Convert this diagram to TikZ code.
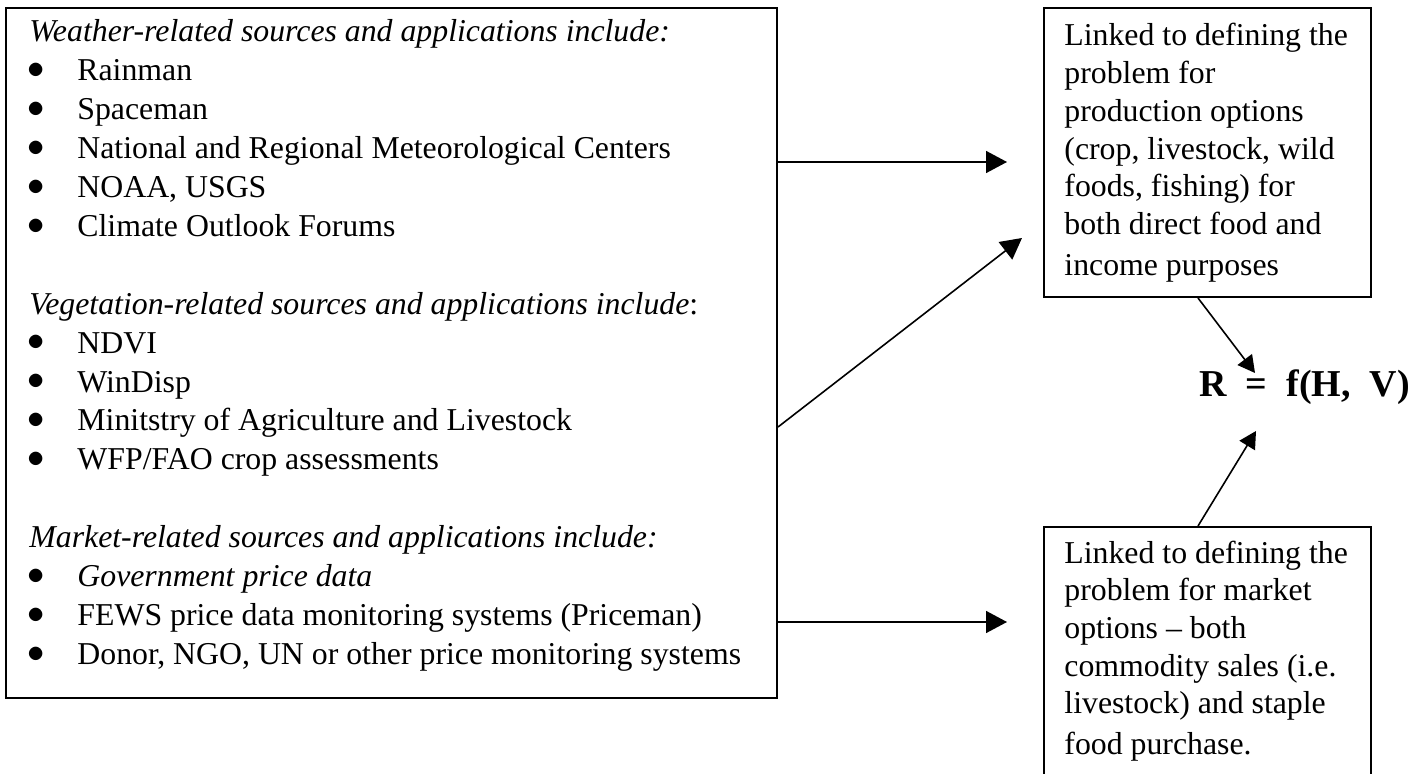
\documentclass[tikz,border=0pt]{standalone}
\usepackage{fontspec}
\setmainfont{Liberation Serif}
\usetikzlibrary{arrows.meta,calc,positioning}
\tikzset{
	>={Triangle[length=10.5pt,width=11pt]},
	box/.style={draw, line width=1pt, anchor=north west, inner sep=0pt},
	link/.style={->, line width=0.8pt},
	shortlink/.style={-{Triangle[length=8.5pt,width=9pt]}, line width=0.8pt},
	boxtext/.style={anchor=base west, inner sep=0pt, font=\fontsize{15.9}{18.85}\selectfont},
	listtext/.style={anchor=base west, inner sep=0pt, font=\fontsize{15.9}{19.45}\selectfont},
}
\newcommand{\hd}[1]{\multicolumn{2}{@{}l@{}}{#1}}
\newcommand{\bl}{\hspace{-1pt}\raisebox{1.1pt}{$\bullet$}}

\begin{document}
\begin{tikzpicture}[x=0.5pt, y=-0.5pt]
	\useasboundingbox (0,0) rectangle (1422,774);
	% sources
	\node[box, minimum width=385.5pt, minimum height=345pt] (src) at (5,7) {};
	\node[listtext] (srclist) at (29,42) {\begin{tabular}[t]{@{}p{24pt}@{}l@{}}
		\hd{\itshape Weather-related sources and applications include:}\\
		\bl & Rainman\\
		\bl & Spaceman\\
		\bl & National and Regional Meteorological Centers\\
		\bl & NOAA, USGS\\
		\bl & Climate Outlook Forums\\
		\\
		\hd{\textit{Vegetation-related sources and applications include}:}\\
		\bl & NDVI\\
		\bl & WinDisp\\
		\bl & Minitstry of Agriculture and Livestock\\
		\bl & WFP/FAO crop assessments\\
		\\
		\hd{\itshape Market-related sources and applications include:}\\
		\bl & \textit{Government price data}\\
		\bl & FEWS price data monitoring systems (Priceman)\\
		\bl & Donor, NGO, UN or other price monitoring systems
	\end{tabular}};
	% production and market
	\node[box, minimum width=163.5pt, minimum height=144.5pt] (prod) at (1043,7) {};
	\node[boxtext] (prodtext) at (1064,46) {\begin{tabular}[t]{@{}l@{}}
		Linked to defining the\\
		problem for\\
		production options\\
		(crop, livestock, wild\\
		foods, fishing) for\\
		both direct food and\\[1.6pt]
		income purposes
	\end{tabular}};
	\node[box, minimum width=163.5pt, minimum height=140pt] (mkt) at (1043,526) {};
	\node[boxtext] (mkttext) at (1064,563) {\begin{tabular}[t]{@{}l@{}}
		Linked to defining the\\
		problem for market\\
		options – both\\
		commodity sales (i.e.\\
		livestock) and staple\\[1.6pt]
		food purchase.
	\end{tabular}};
	% result
	\node[anchor=base west, inner sep=0pt, font=\bfseries\fontsize{19}{23}\selectfont] (res) at (1199,397) {R\ \ =\ \ f(H,\ \ V)};
	% arrows
	\coordinate (prodin) at (1007,162);
	\coordinate (vegin) at (1022,238);
	\coordinate (mktin) at (1007,622);
	\coordinate (resin1) at (1255,373);
	\coordinate (resin2) at (1256,431);
	\draw[link] (src.east |- prodin) -- (prodin);
	\draw[link] (src.east |- 0,427) -- (vegin);
	\draw[link] (src.east |- mktin) -- (mktin);
	\draw[shortlink] (prod.south -| 1198,0) -- (resin1);
	\draw[shortlink] (mkt.north -| 1198,0) -- (resin2);
\end{tikzpicture}
\end{document}
